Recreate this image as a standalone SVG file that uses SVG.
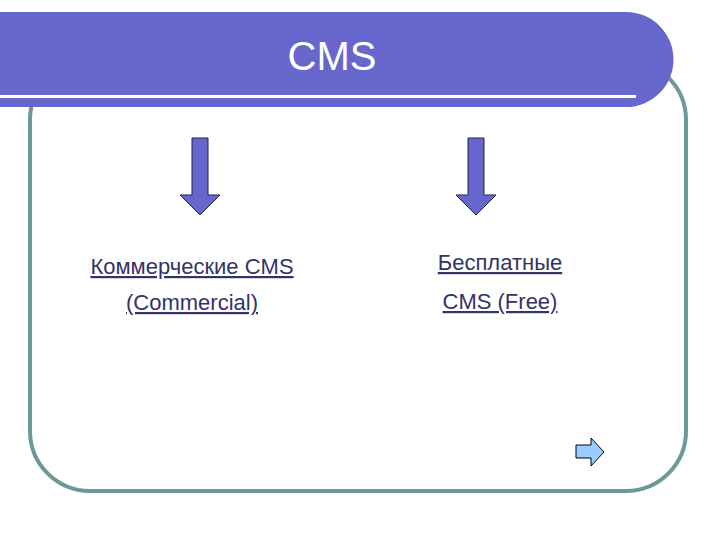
<svg xmlns="http://www.w3.org/2000/svg" width="720" height="540" viewBox="0 0 720 540">
<style>
.t{font-family:"Liberation Sans",Arial,sans-serif;font-size:22px;fill:#333366;text-decoration:underline;text-anchor:middle}
.arr{fill:#6666cc;stroke:#222244;stroke-width:1}
</style>
<rect width="720" height="540" fill="#fff"/>
<g id="frame"><rect x="30" y="60" width="656" height="431" rx="60" fill="none" stroke="#6a9a98" stroke-width="4"/></g>
<g id="header">
<path d="M0 12 H626 A46 46 0 0 1 626 107 H0 Z" fill="#6666cc"/>
<rect x="0" y="95" width="636" height="3" fill="#fff"/>
<text x="332" y="70" font-family="Liberation Sans,Arial,sans-serif" font-size="40" fill="#fff" text-anchor="middle">CMS</text>
</g>
<g id="connectors">
<path class="arr" d="M192 138 H208 V195 H220 L200 215 L180 195 H192 Z"/>
<path class="arr" d="M468 138 H484 V195 H496 L476 215 L456 195 H468 Z"/>
</g>
<g id="commercial"><text class="t" x="192" y="274">Коммерческие CMS</text><text class="t" x="192" y="310">(Commercial)</text></g>
<g id="free"><text class="t" x="500" y="270">Бесплатные</text><text class="t" x="500" y="309">CMS (Free)</text></g>
<g id="next"><path d="M576 445 H591 V438 L604 452 L591 466 V458 H576 Z" fill="#99ccff" stroke="#000" stroke-width="1"/></g>
</svg>
